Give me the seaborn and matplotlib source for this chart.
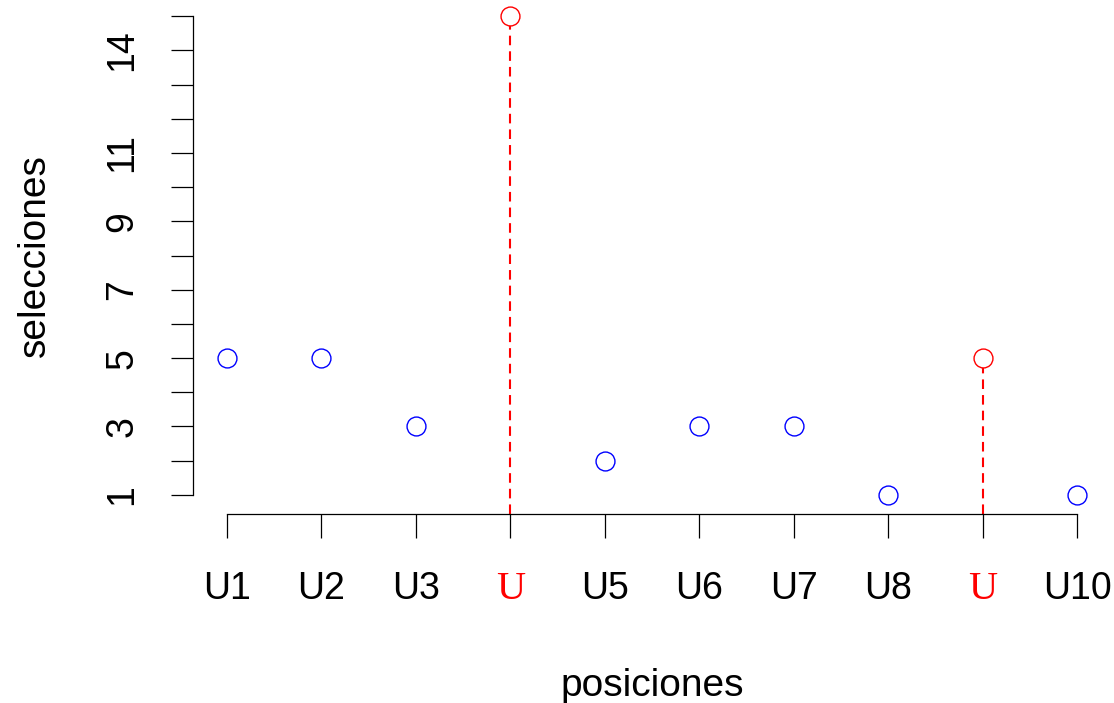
import matplotlib
matplotlib.use("Agg")
import matplotlib.pyplot as plt
import numpy as np
import pandas as pd
import seaborn as sns

# Positions, their labels and how many times each was selected
posiciones = [1, 2, 3, 4, 5, 6, 7, 8, 9, 10]
etiquetas = ["U1", "U2", "U3", "U", "U5", "U6", "U7", "U8", "U", "U10"]
selecciones = [5, 5, 3, 15, 2, 3, 3, 1, 5, 1]
marcadas = [False, False, False, True, False, False, False, False, True, False]

# Y axis ticks and the labels that are printed
y_ticks = list(range(1, 16))
y_etiquetas_visibles = [1, 3, 5, 7, 9, 11, 14]

sns.set_style("white")
plt.rcParams["font.family"] = ["Liberation Sans", "DejaVu Sans"]
plt.rcParams["text.color"] = "black"
plt.rcParams["axes.labelcolor"] = "black"
plt.rcParams["xtick.color"] = "black"
plt.rcParams["ytick.color"] = "black"

df = pd.DataFrame({
    "posicion": posiciones,
    "seleccion": selecciones,
    "marcada": marcadas,
})
normales = df[~df["marcada"]]
destacadas = df[df["marcada"]]

W, H = 1114, 703
fig = plt.figure(figsize=(W / 100, H / 100), dpi=100)
ax = fig.add_axes([193 / W, (H - 514) / H, 918 / W, 517 / H])

x_min, x_max = 0.64, 10.36
y_min, y_max = 0.44, 15.56
ax.set_xlim(x_min, x_max)
ax.set_ylim(y_min, y_max)

# Dashed drop lines for the highlighted positions
ax.vlines(destacadas["posicion"], y_min, destacadas["seleccion"],
          colors="#FF0000", linestyles=(0, (4.6, 2.9)), linewidth=1.5,
          zorder=1, clip_on=False)

sns.scatterplot(data=normales, x="posicion", y="seleccion", ax=ax,
                marker="o", s=185, facecolor="white", edgecolor="#0000FF",
                linewidth=1.0, zorder=3, clip_on=False, legend=False)
sns.scatterplot(data=destacadas, x="posicion", y="seleccion", ax=ax,
                marker="o", s=185, facecolor="white", edgecolor="#FF0000",
                linewidth=1.0, zorder=3, clip_on=False, legend=False)

# Axes styled like a classic base plot: open box, spines cut to the data range
for side in ("top", "right"):
    ax.spines[side].set_visible(False)
ax.spines["left"].set_bounds(1, 15)
ax.spines["bottom"].set_bounds(1, 10)
for side in ("left", "bottom"):
    ax.spines[side].set_color("black")
    ax.spines[side].set_linewidth(0.9)

ax.set_xticks(posiciones)
ax.set_xticklabels(etiquetas)
ax.set_yticks(y_ticks)
ax.set_yticklabels([str(v) if v in y_etiquetas_visibles else "" for v in y_ticks],
                   rotation=90, va="center")

ax.tick_params(axis="x", bottom=True, direction="out", length=17, width=0.9,
               color="black", labelcolor="black", labelsize=27, pad=24)
ax.tick_params(axis="y", left=True, direction="out", length=16, width=0.9,
               color="black", labelcolor="black", labelsize=27, pad=22)

for lbl, marcada in zip(ax.get_xticklabels(), marcadas):
    if marcada:
        lbl.set_color("#FF0000")
        lbl.set_family(["Liberation Serif", "DejaVu Serif"])
        lbl.set_fontsize(29)

ax.set_xlabel("posiciones", fontsize=28, va="center", color="black")
ax.set_ylabel("selecciones", fontsize=28, va="center", color="black")
ax.xaxis.set_label_coords(0.5, (514 - 686) / 517)
ax.yaxis.set_label_coords((35 - 193) / 918, 0.5)

fig.savefig("out.png", dpi=100, facecolor="white")
